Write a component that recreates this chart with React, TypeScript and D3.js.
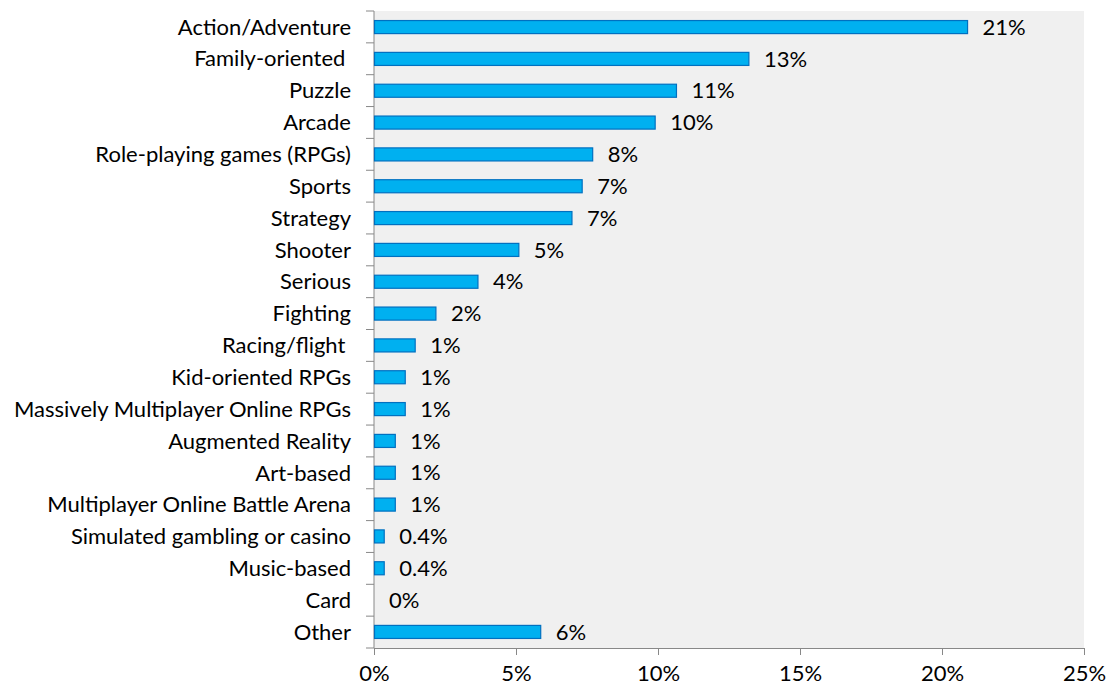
import React, { useRef, useEffect } from 'react';
import * as d3 from 'd3';

const categories = [
  'Action/Adventure',
  'Family-oriented ',
  'Puzzle',
  'Arcade',
  'Role-playing games (RPGs)',
  'Sports',
  'Strategy',
  'Shooter',
  'Serious',
  'Fighting',
  'Racing/flight ',
  'Kid-oriented RPGs',
  'Massively Multiplayer Online RPGs',
  'Augmented Reality',
  'Art-based',
  'Multiplayer Online Battle Arena',
  'Simulated gambling or casino',
  'Music-based',
  'Card',
  'Other',
];
const values = [20.9, 13.2, 10.65, 9.9, 7.7, 7.33, 6.97, 5.1, 3.66, 2.18, 1.45, 1.1, 1.1, 0.75, 0.75, 0.75, 0.36, 0.36, 0, 5.87];
const valueLabels = ['21%', '13%', '11%', '10%', '8%', '7%', '7%', '5%', '4%', '2%', '1%', '1%', '1%', '1%', '1%', '1%', '0.4%', '0.4%', '0%', '6%'];
const xTicks = [0, 5, 10, 15, 20, 25];

export default function App() {
  const svgRef = useRef<SVGSVGElement>(null);

  useEffect(() => {
    if (!svgRef.current) return;
    d3.select(svgRef.current).selectAll('*').remove();

    const width = 1110;
    const height = 688;
    const margin = { top: 11, right: 26, bottom: 40, left: 374 };
    const innerWidth = width - margin.left - margin.right;
    const innerHeight = height - margin.top - margin.bottom;
    const font = 'Lato, "Open Sans", sans-serif';
    const fontSize = '22px';

    const svg = d3.select(svgRef.current)
      .attr('width', width)
      .attr('height', height)
      .append('g')
      .attr('transform', `translate(${margin.left},${margin.top})`);

    svg.append('rect')
      .attr('width', innerWidth)
      .attr('height', innerHeight)
      .attr('fill', '#f0f0f0');

    const x = d3.scaleLinear().domain([0, 25]).range([0, innerWidth]);
    const y = d3.scaleBand().domain(categories).range([0, innerHeight]).paddingInner(0.59).paddingOuter(0.3);
    const band = d3.scaleBand().domain(categories).range([0, innerHeight]);

    // Y axis (ticks between categories)
    const yAxis = svg.append('g');
    yAxis.append('line')
      .attr('x1', 0).attr('x2', 0).attr('y1', 0).attr('y2', innerHeight)
      .attr('stroke', '#888').attr('stroke-width', 1);
    yAxis.selectAll('.ytick')
      .data(categories.concat(['__end']))
      .enter()
      .append('line')
      .attr('x1', -8).attr('x2', 0)
      .attr('y1', (d, i) => i * band.step())
      .attr('y2', (d, i) => i * band.step())
      .attr('stroke', '#888');
    yAxis.selectAll('.ylabel')
      .data(categories)
      .enter()
      .append('text')
      .attr('x', -23)
      .attr('y', d => (band(d) || 0) + band.bandwidth() / 2)
      .attr('dy', '0.35em')
      .attr('text-anchor', 'end')
      .style('white-space', 'pre')
      .style('font-family', font)
      .style('font-size', fontSize)
      .style('fill', '#000')
      .text(d => d);

    // X axis
    svg.append('g')
      .attr('transform', `translate(0,${innerHeight})`)
      .call(d3.axisBottom(x).tickValues(xTicks).tickSize(7).tickPadding(10).tickFormat(d => `${d}%`))
      .call(g => g.select('.domain').attr('stroke', '#888'))
      .call(g => g.selectAll('.tick line').attr('stroke', '#888'))
      .call(g => g.selectAll('text')
        .style('font-family', font)
        .style('font-size', fontSize)
        .style('fill', '#000'));

    // Bars
    svg.selectAll('.bar')
      .data(categories)
      .enter()
      .append('rect')
      .attr('x', 0.5)
      .attr('y', d => (y(d) || 0))
      .attr('width', (d, i) => Math.max(0, x(values[i]) - 0.5))
      .attr('height', y.bandwidth())
      .attr('fill', '#00b0f0')
      .attr('stroke', (d, i) => values[i] > 0 ? '#0070c0' : 'none')
      .attr('stroke-width', 1.2);

    // Value labels
    svg.selectAll('.vlabel')
      .data(categories)
      .enter()
      .append('text')
      .attr('x', (d, i) => x(values[i]) + 15)
      .attr('y', d => (y(d) || 0) + y.bandwidth() / 2)
      .attr('dy', '0.35em')
      .style('font-family', font)
      .style('font-size', fontSize)
      .style('fill', '#000')
      .text((d, i) => valueLabels[i]);
  }, []);

  return <svg ref={svgRef} style={{ position: 'absolute', left: 0, top: 0 }} />;
}
